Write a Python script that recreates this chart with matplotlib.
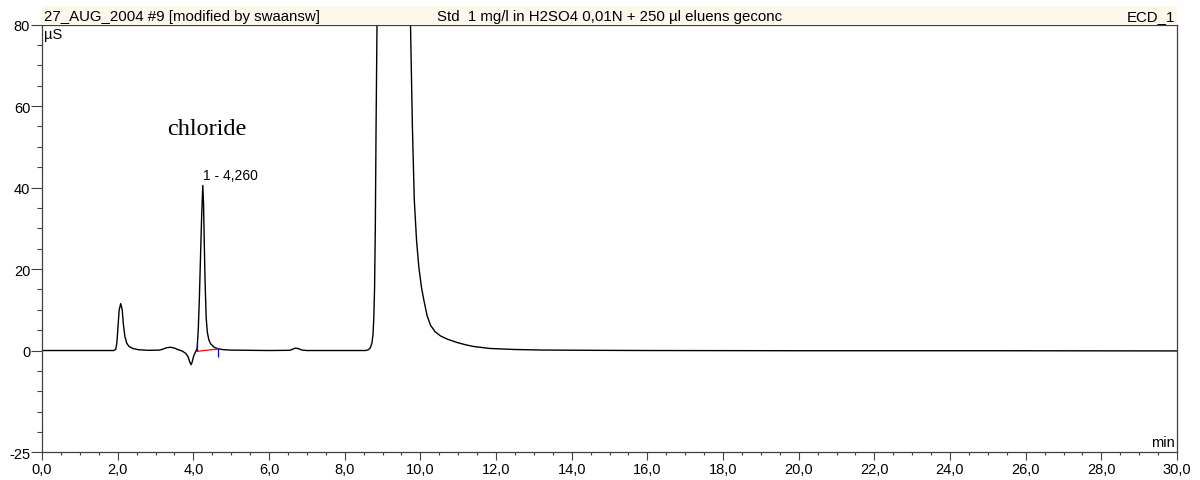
import numpy as np
import matplotlib
matplotlib.use("Agg")
import matplotlib.pyplot as plt

plt.rcParams["font.family"] = ["Liberation Sans", "DejaVu Sans"]

# chromatogram (time in min, conductivity in uS)
time_min = [0.0, 1.90, 1.95, 1.98, 2.01, 2.04, 2.08, 2.12, 2.15, 2.19, 2.24, 2.30, 2.40,
            2.55, 2.80, 3.10, 3.20, 3.30, 3.40, 3.50, 3.60, 3.70, 3.80, 3.86, 3.91,
            3.94, 3.97, 4.01, 4.06, 4.10, 4.13, 4.16, 4.19, 4.22, 4.25, 4.27, 4.29,
            4.31, 4.34, 4.37, 4.41, 4.46, 4.55, 4.66, 4.80, 5.00, 6.00, 6.55, 6.62,
            6.70, 6.78, 6.88, 7.00, 8.55, 8.63, 8.68, 8.72, 8.75, 8.77, 8.79, 8.81,
            8.83, 8.86, 8.90, 9.30, 9.68, 9.71, 9.74, 9.79, 9.84, 9.90, 9.96, 10.03,
            10.09, 10.18, 10.27, 10.39, 10.53, 10.71, 10.96, 11.20, 11.40, 11.84,
            12.50, 13.20, 14.50, 16.00, 20.00, 25.00, 30.00]
signal_uS = [0.0, 0.0, 0.3, 2.0, 6.0, 10.0, 11.5, 10.0, 6.5, 3.5, 1.8, 1.0, 0.5,
             0.2, 0.05, 0.1, 0.35, 0.7, 0.8, 0.6, 0.2, -0.1, -0.7, -1.5, -2.9,
             -3.5, -2.8, -1.3, -0.3, 0.5, 5.0, 13.0, 23.0, 33.0, 40.5, 36.0, 26.0,
             17.0, 8.0, 4.5, 2.6, 1.6, 0.8, 0.4, 0.2, 0.1, 0.0, 0.05, 0.3,
             0.6, 0.45, 0.1, 0.0, 0.0, 0.2, 0.7, 1.8, 4.0, 8.0, 15.0, 30.0,
             55.0, 85.0, 120.0, 200.0, 120.0, 95.0, 80.0, 55.0, 37.0, 27.0, 20.5, 15.5,
             12.5, 8.5, 6.2, 4.6, 3.6, 2.8, 2.0, 1.4, 1.0, 0.5,
             0.25, 0.12, 0.05, 0.0, -0.05, -0.05, -0.1]

# integration of peak 1
base_t = [4.09, 4.66]
base_y = [-0.2, 0.37]
delim_lo = [-0.2, -1.6]
delim_hi = [2.1, 0.6]

peak_label = "1 - 4,260"
peak_pos = (4.25, 41.3)

x_major = np.arange(0, 30.1, 2.0)
x_minor = np.arange(0, 30.1, 0.5)
y_major = [-25, 0, 20, 40, 60, 80]
y_minor = [v for v in range(-25, 81, 5) if v not in y_major]

W, H = 1200, 481
fig = plt.figure(figsize=(12, 4.81), dpi=100)
left, right = 42 / W, 1177 / W
bottom, top = 1 - 453.4 / H, 1 - 25.5 / H
ax = fig.add_axes([left, bottom, right - left, top - bottom])

# header band
band = fig.add_axes([left, top, right - left, (25.5 - 7) / H])
band.set_facecolor("#fdf8ec")
band.set_xticks([])
band.set_yticks([])
for s in band.spines.values():
    s.set_visible(False)
band.text(0.002, 0.24, "27_AUG_2004 #9 [modified by swaansw]", fontsize=10.8, va="baseline", ha="left")
band.text(0.5, 0.24, "Std  1 mg/l in H2SO4 0,01N + 250 µl eluens geconc", fontsize=10.8, va="baseline", ha="center")
band.text(0.998, 0.24, "ECD_1", fontsize=10.8, va="baseline", ha="right")

ax.plot(time_min, signal_uS, color="black", lw=1.0)
ax.plot(base_t, base_y, color="red", lw=0.9)
ax.vlines(base_t, delim_lo, delim_hi, color="blue", lw=0.9)

ax.set_xlim(0, 30)
ax.set_ylim(-25, 80)

ax.set_xticks(x_major, labels=[f"{v:.1f}".replace(".", ",") for v in x_major])
ax.set_xticks(x_minor, minor=True)
ax.set_yticks(y_major, labels=[str(v) for v in y_major])
ax.set_yticks(y_minor, minor=True)
ax.tick_params(axis="x", which="major", length=6, width=0.8, pad=1, labelsize=10.5, color="#404040")
ax.tick_params(axis="x", which="minor", length=2.5, width=0.8, color="#404040")
ax.tick_params(axis="y", which="major", length=8, width=0.8, pad=0.5, labelsize=10.5, color="#404040")
ax.tick_params(axis="y", which="minor", length=3.5, width=0.8, color="#404040")
for s in ax.spines.values():
    s.set_color("#404040")
    s.set_linewidth(0.9)

ax.text(0.002, 0.995, "µS", transform=ax.transAxes, fontsize=10.5, va="top", ha="left")
ax.text(0.998, 0.008, "min", transform=ax.transAxes, fontsize=10.5, va="bottom", ha="right")
ax.text(peak_pos[0], peak_pos[1], peak_label, fontsize=10, ha="left", va="bottom")
ax.text(3.3, 53.2, "chloride", fontsize=17.5, family="Liberation Serif", ha="left", va="baseline")

fig.savefig("out.png", dpi=100)
